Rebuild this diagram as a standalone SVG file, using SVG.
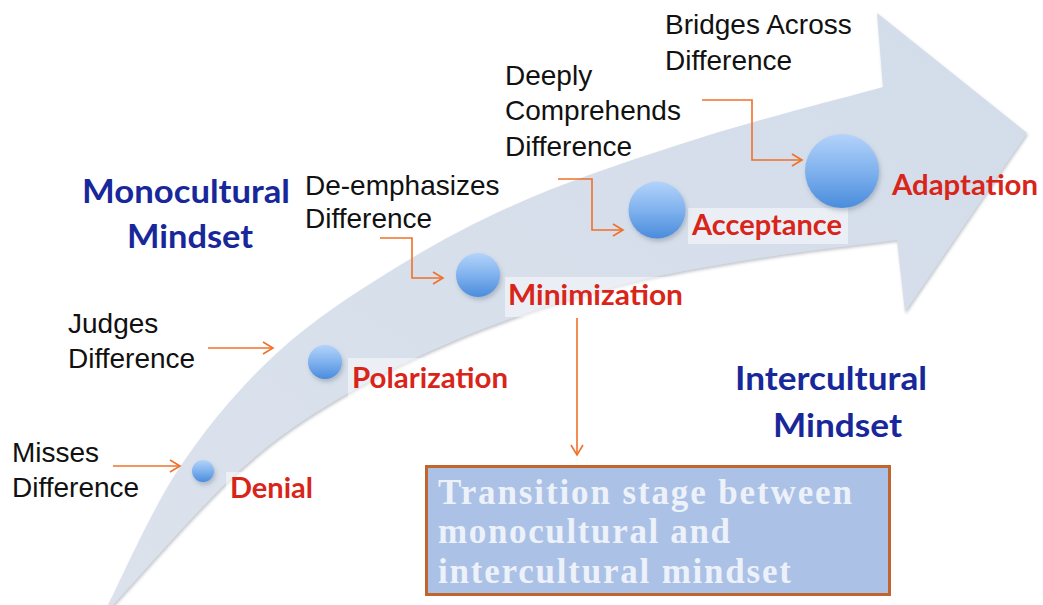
<svg xmlns="http://www.w3.org/2000/svg" width="1043" height="605" viewBox="0 0 1043 605">
  <style>
    .lbl { font-family: "Liberation Sans", Arial, sans-serif; font-size: 28px; fill: #111111; }
    .stage { font-family: Lato, "Open Sans", sans-serif; font-weight: 700; font-size: 29px; fill: #d9241a; }
    .mind { font-family: Lato, "Open Sans", sans-serif; font-weight: 700; font-size: 33px; fill: #18289a; }
    .box-text { font-family: "Liberation Serif", "Times New Roman", serif; font-weight: 700; font-size: 35px; fill: #edf1f9; }
    .conn { fill: none; stroke: #f07028; stroke-width: 1.6; }
    .lblbg { fill: #ffffff; opacity: 0.5; }
    .sphere { fill: url(#sphereGrad); filter: url(#sphereShadow); }
  </style>
  <defs>
    <linearGradient id="sphereGrad" x1="0" y1="0" x2="0" y2="1">
      <stop offset="0" stop-color="#b3d3fa"/>
      <stop offset="0.5" stop-color="#80b2ee"/>
      <stop offset="1" stop-color="#4a8cdc"/>
    </linearGradient>
    <linearGradient id="bandGrad" x1="0" y1="1" x2="1" y2="0">
      <stop offset="0" stop-color="#dbe2ec"/>
      <stop offset="1" stop-color="#d3dcea"/>
    </linearGradient>
    <filter id="sphereShadow" x="-30%" y="-30%" width="170%" height="170%">
      <feDropShadow dx="1.5" dy="3" stdDeviation="2" flood-color="#5a6a80" flood-opacity="0.35"/>
    </filter>
    <filter id="bandShadow" x="-5%" y="-5%" width="110%" height="110%">
      <feDropShadow dx="1" dy="2" stdDeviation="1.5" flood-color="#7a8290" flood-opacity="0.45"/>
    </filter>
    <marker id="chev" markerUnits="userSpaceOnUse" markerWidth="14" markerHeight="14" refX="11" refY="7" orient="auto">
      <path d="M1,1 L11,7 L1,13" fill="none" stroke="#f07028" stroke-width="1.6"/>
    </marker>
  </defs>

  <rect x="0" y="0" width="1043" height="605" fill="#ffffff"/>

  <g id="curved-arrow">
    <path filter="url(#bandShadow)" fill="url(#bandGrad)" d="M108,605 C120,582 151.8,509 180,467 C208.2,425 240.8,386.3 277,353 C313.2,319.7 354.8,292.8 397,267 C439.2,241.2 479.5,219.5 530,198 C580.5,176.5 641.2,156.5 700,138 C758.8,119.5 852.5,95.5 883,87 L877,13 L1027,133 L905,312 L897,240 C874.2,243 806.2,250.5 760,258 C713.8,265.5 666.7,273 620,285 C573.3,297 525,312.2 480,330 C435,347.8 390,368.7 350,392 C310,415.3 279.5,434.5 240,470 C200.5,505.5 134.2,582.5 113,605 Z"/>
  </g>

  <g id="monocultural-mindset">
    <text class="mind" x="82" y="203" textLength="208" lengthAdjust="spacingAndGlyphs">Monocultural</text>
    <text class="mind" x="127" y="248" textLength="126" lengthAdjust="spacingAndGlyphs">Mindset</text>
  </g>
  <g id="intercultural-mindset">
    <text class="mind" x="735" y="390" textLength="192" lengthAdjust="spacingAndGlyphs">Intercultural</text>
    <text class="mind" x="773" y="437" textLength="129" lengthAdjust="spacingAndGlyphs">Mindset</text>
  </g>

  <g id="denial">
    <rect class="lblbg" x="226" y="472" width="94" height="40"/>
    <circle class="sphere" cx="203" cy="471" r="11"/>
    <text class="stage" x="230" y="498" textLength="83" lengthAdjust="spacingAndGlyphs">Denial</text>
  </g>
  <g id="polarization">
    <rect class="lblbg" x="348" y="358" width="164" height="39"/>
    <circle class="sphere" cx="325" cy="362" r="17"/>
    <text class="stage" x="352" y="388" textLength="156" lengthAdjust="spacingAndGlyphs">Polarization</text>
  </g>
  <g id="minimization">
    <rect class="lblbg" x="505" y="277" width="192" height="40"/>
    <circle class="sphere" cx="478" cy="275" r="22"/>
    <text class="stage" x="508" y="305" textLength="175" lengthAdjust="spacingAndGlyphs">Minimization</text>
  </g>
  <g id="acceptance">
    <rect class="lblbg" x="688" y="208" width="160" height="36"/>
    <circle class="sphere" cx="657" cy="210" r="28.5"/>
    <text class="stage" x="692" y="235" textLength="150" lengthAdjust="spacingAndGlyphs">Acceptance</text>
  </g>
  <g id="adaptation">
    <circle class="sphere" cx="842" cy="171" r="37"/>
    <text class="stage" x="892" y="195" textLength="146" lengthAdjust="spacingAndGlyphs">Adaptation</text>
  </g>

  <g id="misses-difference">
    <text class="lbl" x="12" y="462">Misses</text>
    <text class="lbl" x="12" y="497">Difference</text>
  </g>
  <g id="judges-difference">
    <text class="lbl" x="68" y="333">Judges</text>
    <text class="lbl" x="68" y="368">Difference</text>
  </g>
  <g id="deemphasizes-difference">
    <text class="lbl" x="305" y="195">De-emphasizes</text>
    <text class="lbl" x="305" y="228">Difference</text>
  </g>
  <g id="deeply-comprehends-difference">
    <text class="lbl" x="505" y="85">Deeply</text>
    <text class="lbl" x="505" y="120">Comprehends</text>
    <text class="lbl" x="505" y="156">Difference</text>
  </g>
  <g id="bridges-across-difference">
    <text class="lbl" x="665" y="34">Bridges Across</text>
    <text class="lbl" x="665" y="70">Difference</text>
  </g>

  <g id="transition-box">
    <rect x="426.5" y="466.5" width="463" height="128" fill="#abc1e6" stroke="#c0652e" stroke-width="3"/>
    <text class="box-text" x="438" y="504" textLength="414">Transition stage between</text>
    <text class="box-text" x="438" y="543" textLength="292">monocultural and</text>
    <text class="box-text" x="438" y="583" textLength="353">intercultural mindset</text>
  </g>

  <g id="connectors">
    <path class="conn" marker-end="url(#chev)" d="M113,466 L180,466"/>
    <path class="conn" marker-end="url(#chev)" d="M208,348 L273,348"/>
    <path class="conn" marker-end="url(#chev)" d="M380,238 L412,238 L412,278 L443,278"/>
    <path class="conn" marker-end="url(#chev)" d="M558,179 L592,179 L592,230 L623,230"/>
    <path class="conn" marker-end="url(#chev)" d="M702,100 L752,100 L752,160 L802,160"/>
    <path class="conn" marker-end="url(#chev)" d="M577,318 L577,455"/>
  </g>
</svg>
